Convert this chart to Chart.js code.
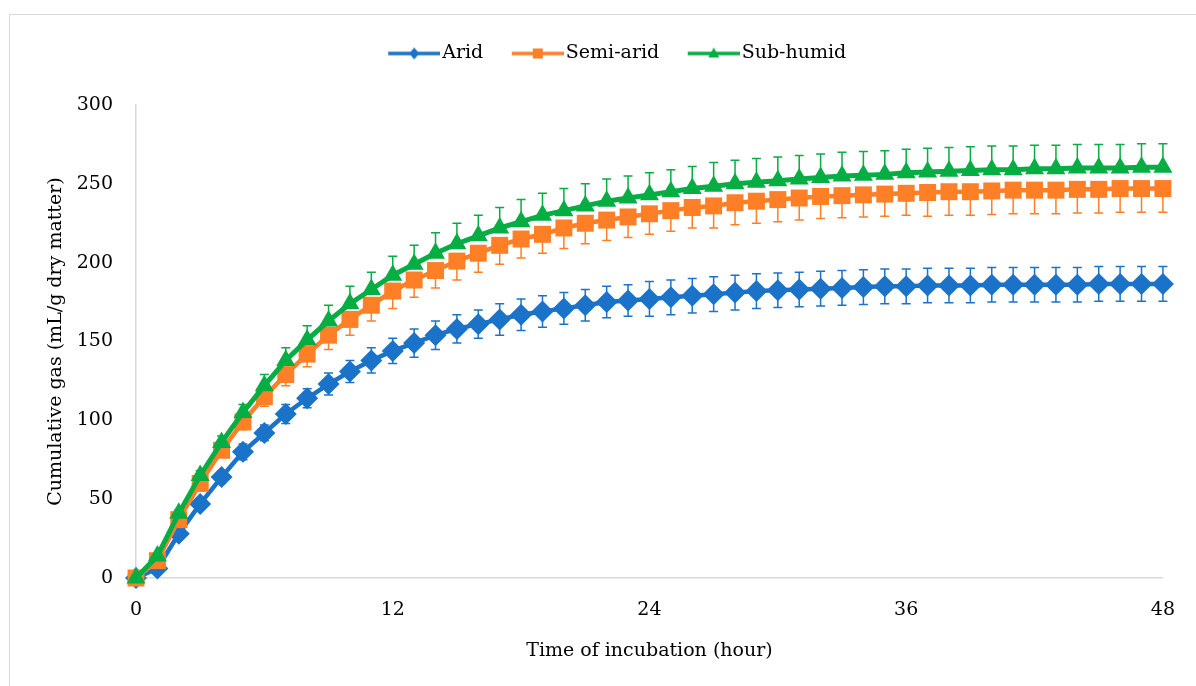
<!DOCTYPE html>
<html>
<head>
<meta charset="utf-8">
<script src="https://cdn.jsdelivr.net/npm/chart.js@4"></script>
<style>
  body { margin: 0; background: #fff; }
  #frame { position: absolute; left: 9px; top: 14px; width: 1200px; height: 700px; border: 1px solid #d9d9d9; }
  #wrap { position: absolute; left: 0; top: 0; width: 1196px; height: 686px; }
</style>
</head>
<body>
<div id="frame"></div>
<div id="wrap"><canvas id="myChart"></canvas></div>
<script>
// hours of incubation
var hours = [0, 1, 2, 3, 4, 5, 6, 7, 8, 9, 10, 11, 12, 13, 14, 15, 16, 17, 18, 19, 20, 21, 22, 23, 24,
    25, 26, 27, 28, 29, 30, 31, 32, 33, 34, 35, 36, 37, 38, 39, 40, 41, 42, 43, 44, 45, 46, 47, 48];
var xTicks = [0, 12, 24, 36, 48];

var arid = [0, 6, 28, 47, 64, 80, 92, 104, 114, 123, 131, 138, 144, 149, 154, 158, 161, 164, 167, 169, 171, 173, 175, 176, 177,
    178, 179, 180, 181, 182, 182.5, 183, 183.5, 184, 184.5, 185, 185, 185.5, 185.5, 185.5, 186, 186, 186, 186, 186, 186.5, 186.5, 186.5, 186.5];
var semiArid = [0, 11, 37, 60, 81, 99, 115, 129, 142, 154, 164, 173, 182, 189, 195, 201, 206, 211, 215, 218, 222, 225, 227, 229, 231,
    233, 235, 236, 238, 239, 240, 241, 242, 242.5, 243, 243.5, 244, 244.5, 245, 245, 245.5, 246, 246, 246, 246.5, 246.5, 247, 247, 247];
var subHumid = [0, 14, 41, 65, 86, 105, 122, 138, 151, 163, 174, 183, 192, 199, 206, 212, 217, 222, 226, 230, 233, 236, 239, 241, 243,
    245, 247, 248.5, 250, 251, 252, 253, 254, 255, 255.5, 256, 257, 257.5, 258, 258.5, 259, 259, 259.5, 259.5, 260, 260, 260, 260.5, 260.5];

// error bars (standard error)
var aridErr = [0, 1, 2, 3, 4, 5, 5, 6, 6, 7, 7, 8, 8, 9, 9, 9, 9, 10, 10, 10, 10, 10, 10, 10, 11,
    11, 11, 11, 11, 11, 11, 11, 11, 11, 11, 11, 11, 11, 11, 11, 11, 11, 11, 11, 11, 11, 11, 11, 11];
var semiAridErr = [0, 1, 2, 3, 4, 5, 6, 7, 8, 9, 10, 10, 11, 11, 11, 12, 12, 12, 12, 12, 13, 13, 13, 13, 13,
    13, 13, 14, 14, 14, 14, 14, 14, 14, 14, 14, 14, 15, 15, 15, 15, 15, 15, 15, 15, 15, 15, 15, 15];
var subHumidErr = [0, 1, 2, 3, 4, 5, 7, 8, 9, 10, 11, 11, 12, 12, 13, 13, 13, 13, 14, 14, 14, 14, 14, 14, 14,
    14, 14, 15, 15, 15, 15, 15, 15, 15, 15, 15, 15, 15, 15, 15, 15, 15, 15, 15, 15, 15, 15, 15, 15];

var blue = '#1a73c9', orange = '#ff7f27', green = '#05ad43';
var fontName = "'DejaVu Serif', serif";

function toPoints(vals) {
    return hours.map(function (h, i) { return {x: h, y: vals[i]}; });
}

// legend icon: line with small marker, transparent room on the left
function legendIcon(color, style) {
    var c = document.createElement('canvas');
    c.width = 78; c.height = 20;
    var g = c.getContext('2d');
    g.strokeStyle = color; g.fillStyle = color; g.lineWidth = 3.5;
    g.beginPath(); g.moveTo(26, 10); g.lineTo(78, 10); g.stroke();
    g.beginPath();
    if (style === 'diamond') {
        g.moveTo(52, 4); g.lineTo(57, 10); g.lineTo(52, 16); g.lineTo(47, 10);
    } else if (style === 'square') {
        g.rect(47, 5, 10, 10);
    } else {
        g.moveTo(52, 4); g.lineTo(57.5, 14); g.lineTo(46.5, 14);
    }
    g.closePath(); g.fill();
    return c;
}

var errorBars = {
    id: 'errorBars',
    beforeDatasetsDraw: function (chart) {
        var ctx = chart.ctx, xs = chart.scales.x, ys = chart.scales.y;
        chart.data.datasets.forEach(function (ds) {
            ctx.save();
            ctx.strokeStyle = ds.borderColor;
            ctx.lineWidth = 1.5;
            ds.data.forEach(function (p, i) {
                var e = ds.errors[i];
                if (!e) return;
                var px = xs.getPixelForValue(p.x);
                var hi = ys.getPixelForValue(p.y + (ds.errUp ? e : 0));
                var lo = ys.getPixelForValue(p.y - (ds.errDown ? e : 0));
                ctx.beginPath();
                ctx.moveTo(px, hi); ctx.lineTo(px, lo);
                if (ds.errUp) { ctx.moveTo(px - 4.5, hi); ctx.lineTo(px + 4.5, hi); }
                if (ds.errDown) { ctx.moveTo(px - 4.5, lo); ctx.lineTo(px + 4.5, lo); }
                ctx.stroke();
            });
            ctx.restore();
        });
    }
};

// give the legend extra room underneath so the plot starts lower
var legendSpace = {
    id: 'legendSpace',
    afterInit: function (chart) {
        var lg = chart.legend;
        if (!lg) return;
        var fit = lg.fit;
        lg.fit = function () {
            fit.call(this);
            this.height += 32;
        };
    }
};

var data = {
    datasets: [
        {
            label: 'Arid', data: toPoints(arid), errors: aridErr, errUp: true, errDown: true,
            borderColor: blue, backgroundColor: blue, borderWidth: 4.5,
            pointStyle: 'rectRot', pointRadius: 11, pointBorderWidth: 0, order: 3,
            icon: legendIcon(blue, 'diamond')
        },
        {
            label: 'Semi-arid', data: toPoints(semiArid), errors: semiAridErr, errUp: false, errDown: true,
            borderColor: orange, backgroundColor: orange, borderWidth: 4.5,
            pointStyle: 'rect', pointRadius: 12, pointBorderWidth: 0, order: 2,
            icon: legendIcon(orange, 'square')
        },
        {
            label: 'Sub-humid', data: toPoints(subHumid), errors: subHumidErr, errUp: true, errDown: false,
            borderColor: green, backgroundColor: green, borderWidth: 5,
            pointStyle: 'triangle', pointRadius: 11, pointBorderWidth: 0, order: 1,
            icon: legendIcon(green, 'triangle')
        }
    ]
};

Chart.defaults.font.family = fontName;
Chart.defaults.font.size = 19;
Chart.defaults.color = '#000';

var ctx = document.getElementById('myChart').getContext('2d');
var chartLine = new Chart(ctx, {
    type: 'line',
    data: data,
    plugins: [errorBars, legendSpace],
    options: {
        responsive: true,
        maintainAspectRatio: false,
        animation: false,
        layout: {padding: {left: 45, right: 25, top: 34, bottom: 24}},
        elements: {line: {tension: 0}},
        datasets: {line: {clip: false}},
        plugins: {
            tooltip: {enabled: false},
            legend: {
                position: 'top',
                labels: {
                    usePointStyle: true,
                    pointStyleWidth: 63,
                    padding: 10,
                    sort: function (a, b) { return a.datasetIndex - b.datasetIndex; },
                    generateLabels: function (chart) {
                        return chart.data.datasets.map(function (ds, i) {
                            return {
                                text: ds.label, datasetIndex: i, pointStyle: ds.icon,
                                fillStyle: ds.borderColor, strokeStyle: ds.borderColor,
                                lineWidth: 0, hidden: false, fontColor: '#000'
                            };
                        });
                    }
                }
            }
        },
        scales: {
            x: {
                type: 'linear', min: 0, max: 48,
                afterBuildTicks: function (s) { s.ticks = xTicks.map(function (v) { return {value: v}; }); },
                grid: {display: false, drawTicks: false},
                border: {display: true, color: '#d9d9d9', width: 1.5},
                ticks: {padding: 21, maxRotation: 0},
                title: {display: true, text: 'Time of incubation (hour)', padding: 0},
                afterFit: function (s) { s.height = 84; }
            },
            y: {
                min: 0, max: 300,
                grid: {display: false, drawTicks: false},
                border: {display: true, color: '#d9d9d9', width: 1.5},
                ticks: {stepSize: 50, padding: 23},
                title: {display: true, text: 'Cumulative gas (mL/g dry matter)', padding: 0},
                afterFit: function (s) { s.width = 91; }
            }
        }
    }
});
</script>
</body>
</html>
